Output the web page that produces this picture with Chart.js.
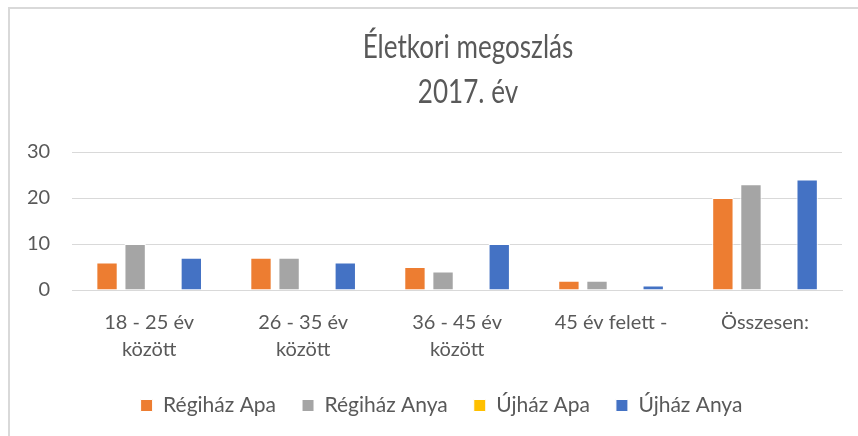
<!DOCTYPE html>
<html>
<head>
<meta charset="utf-8">
<script src="https://cdn.jsdelivr.net/npm/chart.js@4"></script>
<style>
  html, body { margin: 0; padding: 0; background: #fff; }
  #wrap { position: relative; width: 858px; height: 436px; overflow: hidden; }
  #frame { position: absolute; left: 8px; top: 7px; width: 900px; height: 500px; border: 2px solid #D9D9D9; box-sizing: border-box; }
  #title { position: absolute; left: 268px; width: 400px; top: 23px; text-align: center;
           font-family: Lato, sans-serif; font-size: 33px; line-height: 45px; color: #595959;
           transform: scaleX(0.79); transform-origin: 50% 0; }
  #myChart { position: absolute; left: 0; top: 0; }
</style>
</head>
<body>
<div id="wrap">
  <div id="frame"></div>
  <canvas id="myChart" width="858" height="436"></canvas>
  <div id="title">Életkori megoszlás<br>2017. év</div>
</div>
<script>
var categories = [['18 - 25 év', 'között'], ['26 - 35 év', 'között'], ['36 - 45 év', 'között'], '45 év felett -', 'Összesen:'];
var regihazApa = [6, 7, 5, 2, 20];
var regihazAnya = [10, 7, 4, 2, 23];
var ujhazApa = [0, 0, 0, 0, 0];
var ujhazAnya = [7, 6, 10, 1, 24];
var yTicks = [0, 10, 20, 30];

var ctx = document.getElementById('myChart').getContext('2d');
var font = { family: 'Lato, sans-serif', size: 20 };

// legend sits right of centre and a little lower in the original
var shiftLegend = {
  id: 'shiftLegend',
  afterLayout: function (chart) {
    chart.legend.left += 18;
    chart.legend.right += 18;
    chart.legend.top += 9;
    chart.legend.bottom += 9;
  }
};

var myChart = new Chart(ctx, {
  type: 'bar',
  data: {
    labels: categories,
    datasets: [
      { label: 'Régiház Apa', data: regihazApa, backgroundColor: '#ED7D31' },
      { label: 'Régiház Anya', data: regihazAnya, backgroundColor: '#A5A5A5' },
      { label: 'Újház Apa', data: ujhazApa, backgroundColor: '#FFC000' },
      { label: 'Újház Anya', data: ujhazAnya, backgroundColor: '#4472C4' }
    ].map(function (d) {
      d.borderColor = '#FFFFFF';
      d.borderWidth = 1;
      d.categoryPercentage = 0.73;
      d.barPercentage = 0.76;
      return d;
    })
  },
  plugins: [shiftLegend],
  options: {
    responsive: false,
    animation: false,
    layout: { padding: { left: 5, right: 16, top: 152, bottom: 19 } },
    plugins: {
      title: { display: false },
      tooltip: { enabled: false },
      legend: {
        position: 'bottom',
        labels: { font: { family: 'Lato, sans-serif', size: 21 }, color: '#595959', boxWidth: 12, boxHeight: 12, padding: 26 }
      }
    },
    scales: {
      x: {
        grid: { display: false, drawTicks: false },
        border: { color: '#D9D9D9' },
        ticks: { font: { family: 'Lato, sans-serif', size: 20, lineHeight: 1.35 }, color: '#595959', padding: 19, maxRotation: 0 },
        afterFit: function (s) { s.height = 70; }
      },
      y: {
        min: 0, max: 30,
        afterBuildTicks: function (s) { s.ticks = yTicks.map(function (v) { return { value: v }; }); },
        grid: { color: '#D9D9D9', drawTicks: false },
        border: { display: false },
        ticks: { font: font, color: '#595959', padding: 22 }
      }
    }
  }
});
</script>
</body>
</html>
